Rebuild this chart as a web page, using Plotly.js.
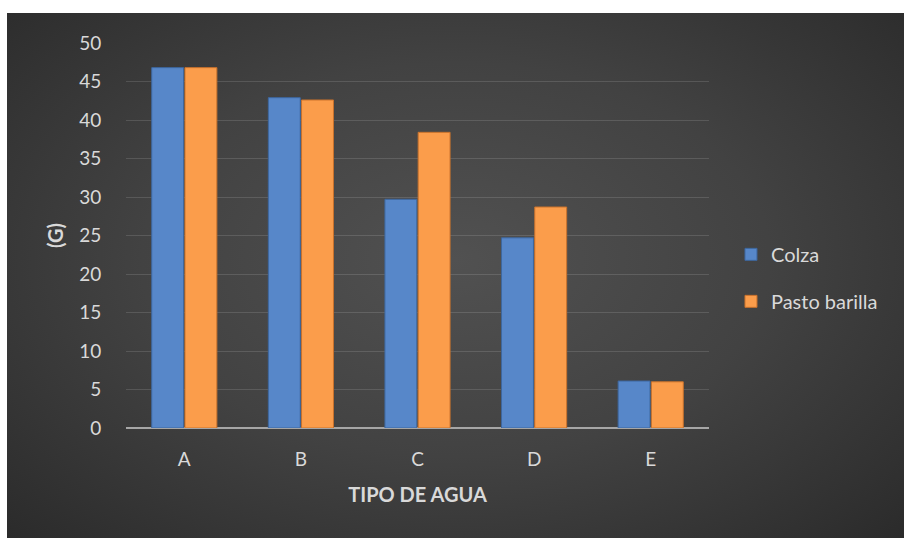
<!DOCTYPE html>
<html>
<head>
<meta charset="utf-8">
<script src="https://cdn.plot.ly/plotly-3.0.1.min.js"></script>
<style>
  html, body { margin: 0; padding: 0; background: #ffffff; }
  #wrap { position: absolute; left: 0; top: 0; width: 904px; height: 538px; background: #ffffff; }
  #bg { position: absolute; left: 7px; top: 13px; width: 897px; height: 525px;
        background: radial-gradient(ellipse 70% 75% at 50% 47%, #515151 0%, #424242 50%, #2b2b2b 100%); }
  #chart { position: absolute; left: 0; top: 0; width: 904px; height: 538px; }
</style>
</head>
<body>
<div id="wrap"><div id="bg"></div><div id="chart"></div></div>
<script>
const categories = ["A", "B", "C", "D", "E"];
const colza = [46.8, 42.9, 29.7, 24.7, 6.1];
const pastoBarilla = [46.8, 42.6, 38.4, 28.7, 6.0];
const seriesNames = ["Colza", "Pasto barilla"];
const yTicks = [0, 5, 10, 15, 20, 25, 30, 35, 40, 45, 50];

const fontFam = "Lato, 'Open Sans', sans-serif";
const textCol = "#d9d9d9";

const traces = [
  {
    type: "bar", name: seriesNames[0], x: categories, y: colza,
    legendgroup: "g1",
    marker: { color: "#5787c9", line: { color: "#3d679f", width: 1 } },
    hoverinfo: "x+y"
  },
  {
    type: "bar", name: seriesNames[1], x: categories, y: pastoBarilla,
    legendgroup: "g2",
    marker: { color: "#fb9d4b", line: { color: "#c9722c", width: 1 } },
    hoverinfo: "x+y"
  }
];

const layout = {
  width: 904, height: 538,
  paper_bgcolor: "rgba(0,0,0,0)",
  plot_bgcolor: "rgba(0,0,0,0)",
  margin: { l: 126, r: 195, t: 43, b: 110 },
  barmode: "group",
  bargap: 0.43,
  bargroupgap: 0.04,
  font: { family: fontFam, color: textCol, size: 19 },
  showlegend: true,
  legend: {
    x: 1.0377, xanchor: "left", y: 0.39, yanchor: "middle",
    xref: "paper", yref: "paper",
    font: { family: fontFam, size: 20, color: textCol },
    traceorder: "grouped", tracegroupgap: 18,
    bgcolor: "rgba(0,0,0,0)", itemwidth: 30
  },
  xaxis: {
    type: "category",
    showgrid: false, zeroline: false, showline: false,
    ticks: "outside", ticklen: 14, tickcolor: "rgba(0,0,0,0)",
    tickfont: { family: fontFam, size: 19, color: textCol },
    title: { text: "<b>TIPO DE AGUA</b>", font: { family: fontFam, size: 20, color: textCol }, standoff: 19 }
  },
  yaxis: {
    range: [0, 50],
    tickvals: yTicks,
    ticktext: yTicks.map(String),
    showgrid: true, gridcolor: "rgba(255,255,255,0.13)", gridwidth: 1,
    zeroline: true, zerolinecolor: "#a6a6a6", zerolinewidth: 2,
    showline: false,
    ticks: "outside", ticklen: 20, tickcolor: "rgba(0,0,0,0)",
    tickfont: { family: fontFam, size: 19, color: textCol },
    title: { text: "<b>(G)</b>", font: { family: fontFam, size: 20, color: textCol }, standoff: 10 }
  }
};

Plotly.newPlot("chart", traces, layout, { displayModeBar: false, staticPlot: true });
</script>
</body>
</html>
